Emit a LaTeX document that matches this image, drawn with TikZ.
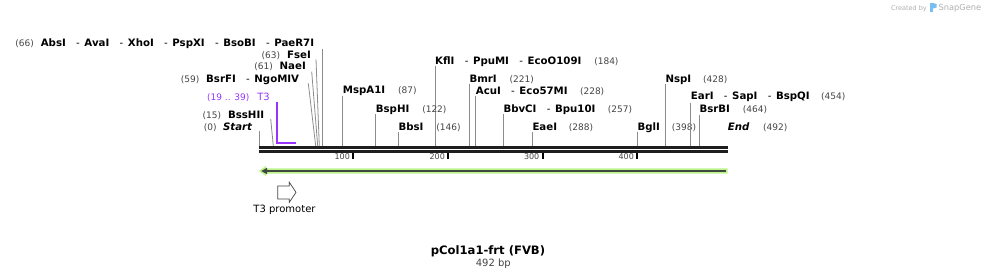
\documentclass[tikz,border=0pt]{standalone}
\usepackage{fontspec}
\setmainfont{DejaVu Sans}
\usetikzlibrary{calc}
\definecolor{numgray}{RGB}{68,68,68}
\definecolor{linegray}{RGB}{140,140,140}
\definecolor{tthreepurple}{RGB}{153,51,255}
\definecolor{glowgreen}{RGB}{188,243,140}
\definecolor{featdark}{RGB}{64,72,64}
\definecolor{barblack}{RGB}{30,30,30}
\definecolor{credgray}{RGB}{175,175,175}
\definecolor{logoblue}{RGB}{120,190,240}
\newcommand\dsh{\hspace{10.3pt}{\mdseries -}\hspace{4.6pt}}
\begin{document}
\begin{tikzpicture}[x=1pt,y=-1pt,
  nm/.style={font=\fontsize{10.2}{12}\selectfont\bfseries, inner sep=0pt, text=black},
  nmi/.style={font=\fontsize{10.2}{12}\selectfont\bfseries\itshape, inner sep=0pt, text=black},
  num/.style={font=\fontsize{9}{11}\selectfont, inner sep=0pt, text=numgray},
  tick/.style={font=\fontsize{8}{10}\selectfont, inner sep=0pt, text=numgray},
  cut/.style={draw=linegray, line width=0.8pt},
  purp/.style={inner sep=0pt, text=tthreepurple},
  ticks/.style={draw=black, line width=2pt},
  ]
\useasboundingbox (0,0) rectangle (987,279);

% credit
\node[inner sep=0pt, anchor=base east, text=credgray, font=\fontsize{6.5}{8}\selectfont] (cred) at (927,10) {Created by};
\fill[logoblue] (930,3) rectangle (933,12);
\fill[logoblue] (933,3) -- (936.5,4) -- (936.5,7.5) -- (933,8.5) -- cycle;
\node[inner sep=0pt, anchor=base west, text=credgray, font=\fontsize{8.3}{10}\selectfont] (sg) at (938.3,10.5) {SnapGene};

% sequence bar
\coordinate (barL) at (258.6,147.5);
\coordinate (barR) at (727.7,147.5);
\draw[barblack, line width=3pt] (barL) -- (barR);
\draw[barblack, line width=2.4pt] ($(barL)+(0,3.8)$) -- ($(barR)+(0,3.8)$);

% ticks
\foreach \x/\lab in {353.3/100, 448.3/200, 542.7/300, 637.3/400}{
  \draw[ticks] (\x,153) -- (\x,158.8);
  \node[tick, anchor=east] at (\x-3.2,156.6) {\lab};
}

% ---- left-side labels ----
\node[nm, anchor=base east] (abs) at (314.3,46) {AbsI\dsh AvaI\dsh XhoI\dsh PspXI\dsh BsoBI\dsh PaeR7I};
\node[num, anchor=base east] (abs-n) at ($(abs.base west)+(-6.5,0)$) {(66)};
\coordinate (abs-t) at (322,49.3); \coordinate (abs-b) at (322,146);
\draw[cut] (abs-t) -- (abs-b);

\node[nm, anchor=base east] (fse) at (311,58) {FseI};
\node[num, anchor=base east] (fse-n) at ($(fse.base west)+(-6.5,0)$) {(63)};
\coordinate (fse-t) at (316,59.3); \coordinate (fse-b) at (319.3,146);
\draw[cut] (fse-t) -- (fse-b);

\node[nm, anchor=base east] (nae) at (306,69.7) {NaeI};
\node[num, anchor=base east] (nae-n) at ($(nae.base west)+(-6.5,0)$) {(61)};
\coordinate (nae-t) at (311.7,71.7); \coordinate (nae-b) at (317.7,146);
\draw[cut] (nae-t) -- (nae-b);

\node[nm, anchor=base east] (bsrfi) at (299.3,82) {BsrFI\dsh NgoMIV};
\node[num, anchor=base east] (bsrfi-n) at ($(bsrfi.base west)+(-6.5,0)$) {(59)};
\coordinate (bsrfi-t) at (308.3,83.3); \coordinate (bsrfi-b) at (315.7,146);
\draw[cut] (bsrfi-t) -- (bsrfi-b);

\node[purp, font=\fontsize{10}{12}\selectfont, anchor=base east] (t3) at (270,100.4) {T3};
\node[purp, font=\fontsize{9}{11}\selectfont, anchor=base east] (t3-n) at ($(t3.base west)+(-7.5,0)$) {(19 .. 39)};
\coordinate (t3-t) at (276.6,101.7); \coordinate (t3-c) at (276.6,142.7); \coordinate (t3-e) at (295.7,142.7);
\draw[tthreepurple, line width=2pt] (t3-t) -- (t3-c) -- (t3-e);

\node[nm, anchor=base east] (bsshii) at (264.3,118) {BssHII};
\node[num, anchor=base east] (bsshii-n) at ($(bsshii.base west)+(-6.5,0)$) {(15)};
\coordinate (bsshii-t) at (270.7,119); \coordinate (bsshii-b) at (273.3,146);
\draw[cut] (bsshii-t) -- (bsshii-b);

\node[nmi, anchor=base east] (start) at (252.3,130.4) {Start};
\node[num, anchor=base east] (start-n) at ($(start.base west)+(-6,0)$) {(0)};
\coordinate (start-t) at (259.3,131); \coordinate (start-b) at (259.3,146);
\draw[cut] (start-t) -- (start-b);

% ---- right-side labels ----
\node[nm, anchor=base west] (kfl) at (435,64.4) {KflI\dsh PpuMI\dsh EcoO109I};
\node[num, anchor=base west] at ($(kfl.base east)+(12.5,0)$) {(184)};
\coordinate (kfl-t) at (435,65.7); \coordinate (kfl-b) at (435,146);
\draw[cut] (kfl-t) -- (kfl-b);

\node[nm, anchor=base west] (bmr) at (469.3,82) {BmrI};
\node[num, anchor=base west] at ($(bmr.base east)+(12.5,0)$) {(221)};
\coordinate (bmr-t) at (469.3,84); \coordinate (bmr-b) at (469.3,146);
\draw[cut] (bmr-t) -- (bmr-b);

\node[nm, anchor=base west] (acu) at (475.7,94.7) {AcuI\dsh Eco57MI};
\node[num, anchor=base west] at ($(acu.base east)+(12,0)$) {(228)};
\coordinate (acu-t) at (475.7,95.7); \coordinate (acu-b) at (475.7,146);
\draw[cut] (acu-t) -- (acu-b);

\node[nm, anchor=base west] (msp) at (342.7,93.7) {MspA1I};
\node[num, anchor=base west] at ($(msp.base east)+(12.5,0)$) {(87)};
\coordinate (msp-t) at (342.7,95.7); \coordinate (msp-b) at (342.7,146);
\draw[cut] (msp-t) -- (msp-b);

\node[nm, anchor=base west] (bsph) at (375.7,112) {BspHI};
\node[num, anchor=base west] at ($(bsph.base east)+(12.5,0)$) {(122)};
\coordinate (bsph-t) at (375.7,114); \coordinate (bsph-b) at (375.7,146);
\draw[cut] (bsph-t) -- (bsph-b);

\node[nm, anchor=base west] (bbvc) at (503.3,112) {BbvCI\dsh Bpu10I};
\node[num, anchor=base west] at ($(bbvc.base east)+(12,0)$) {(257)};
\coordinate (bbvc-t) at (503.3,114); \coordinate (bbvc-b) at (503.3,146);
\draw[cut] (bbvc-t) -- (bbvc-b);

\node[nm, anchor=base west] (bbs) at (398.3,130.4) {BbsI};
\node[num, anchor=base west] at ($(bbs.base east)+(12.5,0)$) {(146)};
\coordinate (bbs-t) at (398.3,132.3); \coordinate (bbs-b) at (398.3,146);
\draw[cut] (bbs-t) -- (bbs-b);

\node[nm, anchor=base west] (eae) at (532.3,130.4) {EaeI};
\node[num, anchor=base west] at ($(eae.base east)+(11.5,0)$) {(288)};
\coordinate (eae-t) at (532.3,132.3); \coordinate (eae-b) at (532.3,146);
\draw[cut] (eae-t) -- (eae-b);

\node[nm, anchor=base west] (bgl) at (637.3,130.4) {BglI};
\node[num, anchor=base west] at ($(bgl.base east)+(11.7,0)$) {(398)};
\coordinate (bgl-t) at (637.3,132.3); \coordinate (bgl-b) at (637.3,146);
\draw[cut] (bgl-t) -- (bgl-b);

\node[nm, anchor=base west] (nsp) at (665.3,82.7) {NspI};
\node[num, anchor=base west] at ($(nsp.base east)+(11.5,0)$) {(428)};
\coordinate (nsp-t) at (665.3,84); \coordinate (nsp-b) at (665.3,146);
\draw[cut] (nsp-t) -- (nsp-b);

\node[nm, anchor=base west] (ear) at (690.7,99.7) {EarI\dsh SapI\dsh BspQI};
\node[num, anchor=base west] at ($(ear.base east)+(11,0)$) {(454)};
\coordinate (ear-t) at (690.7,102.7); \coordinate (ear-b) at (690.7,146);
\draw[cut] (ear-t) -- (ear-b);

\node[nm, anchor=base west] (bsrb) at (699.3,112.7) {BsrBI};
\node[num, anchor=base west] at ($(bsrb.base east)+(12.5,0)$) {(464)};
\coordinate (bsrb-t) at (699.3,115); \coordinate (bsrb-b) at (699.3,146);
\draw[cut] (bsrb-t) -- (bsrb-b);

\node[nmi, anchor=base west] (endl) at (727.7,130.4) {End};
\node[num, anchor=base west] at ($(endl.base east)+(13.3,0)$) {(492)};

% ---- feature arrow (green) ----
\coordinate (fR) at (727.7,171);
\coordinate (fL) at (259.5,171);
\fill[glowgreen] (727.7,168.3) -- (266,168.3) -- (266,165.8) -- (258.8,171) -- (266,176.2) -- (266,173.7) -- (727.7,173.7) -- cycle;
\draw[featdark, line width=2pt] (725.7,171) -- (265,171);
\fill[featdark] (261.3,171) -- (267,167.8) -- (267,174.2) -- cycle;

% ---- T3 promoter ----
\node[inner sep=0pt, font=\fontsize{10}{12}\selectfont, text=black] (t3p) at (284.5,209.5) {T3 promoter};
\draw[draw=numgray, fill=white, line width=0.7pt, line join=miter]
  (277.7,186) -- (289.3,186) -- (289.3,182.3) -- (296,192.3) -- (289.3,202.3) -- (289.3,199) -- (277.7,199) -- cycle;

% ---- title ----
\node[inner sep=0pt, font=\fontsize{11.6}{13}\selectfont\bfseries] (title) at (488,251) {pCol1a1-frt (FVB)};
\node[inner sep=0pt, font=\fontsize{10}{12}\selectfont, text=numgray] (bp) at (493.3,263.5) {492 bp};
\end{tikzpicture}
\end{document}
